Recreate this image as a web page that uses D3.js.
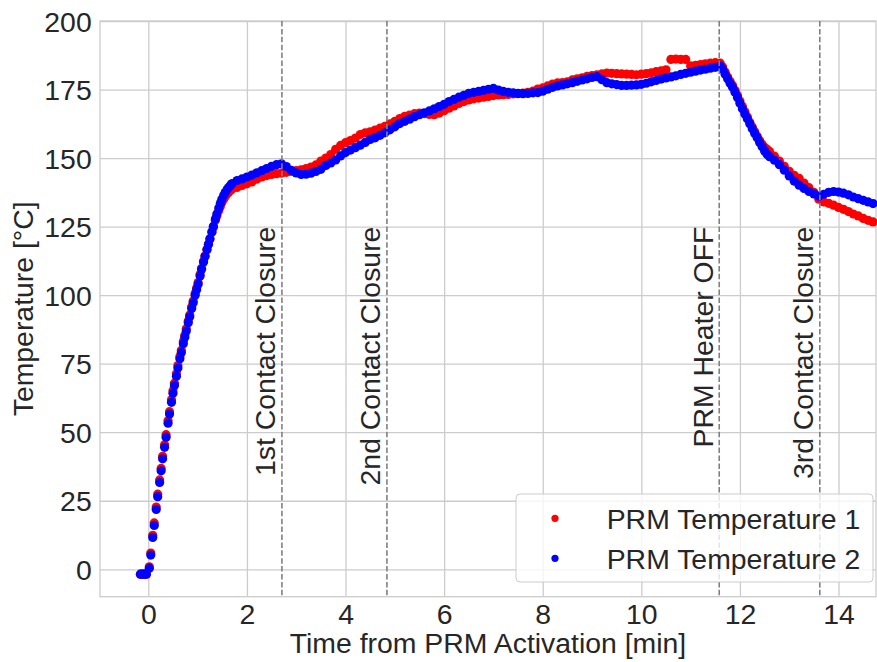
<!DOCTYPE html>
<html>
<head>
<meta charset="utf-8">
<script src="https://cdn.jsdelivr.net/npm/d3@7"></script>
<style>
  body { margin: 0; background: #fff; }
  text { font-family: "Liberation Sans", Arial, sans-serif; fill: #262626; }
</style>
</head>
<body>
<div id="plot"></div>
<script>
// time from PRM activation [min]
var minutes = [
  -0.16, -0.12, -0.08, -0.04,
  0.02, 0.05, 0.09, 0.12, 0.16, 0.19, 0.23, 0.26, 0.29, 0.33,
  0.36, 0.40, 0.43, 0.47, 0.50, 0.53, 0.57, 0.60, 0.64, 0.67,
  0.71, 0.74, 0.77, 0.81, 0.84, 0.88, 0.91, 0.95, 0.98, 1.01,
  1.05, 1.08, 1.12, 1.15, 1.19, 1.22, 1.25, 1.29, 1.32, 1.36,
  1.39, 1.43, 1.46, 1.49, 1.53, 1.56, 1.60, 1.63, 1.67, 1.70,
  1.8, 1.9, 2.0, 2.1, 2.2, 2.3, 2.4, 2.5, 2.6, 2.7,
  2.8, 2.9, 3.0, 3.1, 3.2, 3.3, 3.4, 3.5, 3.6, 3.7,
  3.8, 3.9, 4.0, 4.1, 4.2, 4.3, 4.4, 4.5, 4.6, 4.7,
  4.8, 4.9, 5.0, 5.1, 5.2, 5.3, 5.4, 5.5, 5.6, 5.7,
  5.8, 5.9, 6.0, 6.1, 6.2, 6.3, 6.4, 6.5, 6.6, 6.7,
  6.8, 6.9, 7.0, 7.1, 7.2, 7.3, 7.4, 7.5, 7.6, 7.7,
  7.8, 7.9, 8.0, 8.1, 8.2, 8.3, 8.4, 8.5, 8.6, 8.7,
  8.8, 8.9, 9.0, 9.1, 9.2, 9.3, 9.4, 9.5, 9.6, 9.7,
  9.8, 9.9, 10.0, 10.1, 10.2, 10.3, 10.4, 10.5, 10.6, 10.7,
  10.8, 10.9, 11.0, 11.1, 11.2, 11.3, 11.4, 11.5,
  11.6, 11.65, 11.7, 11.75, 11.8, 11.85, 11.9, 11.95, 12.0, 12.05,
  12.1, 12.15, 12.2, 12.25, 12.3, 12.35, 12.4, 12.45, 12.5, 12.55, 12.6,
  12.7, 12.8, 12.9, 13.0, 13.1, 13.2, 13.3, 13.4, 13.5, 13.6,
  13.7, 13.8, 13.9, 14.0, 14.1, 14.2, 14.3, 14.4, 14.5, 14.6, 14.7
];

// PRM Temperature 1 [°C]
var temp1 = [
  -1.8, -1.8, -1.8, -1.8,
  0.9, 5.9, 12.4, 16.9, 22.7, 27.4, 32.6, 36.8, 41.2, 45.4,
  49.1, 54.2, 57.5, 61.8, 65.1, 67.9, 71.3, 74.3, 77.6, 79.9,
  83.1, 85.4, 87.7, 90.6, 92.8, 95.8, 97.9, 100.6, 102.6, 104.6,
  107.5, 109.8, 112.4, 114.3, 116.7, 118.6, 120.5, 122.9, 124.8, 127.3,
  128.9, 130.9, 132.3, 133.7, 135.1, 136.0, 137.0, 137.6, 138.3, 138.8,
  139.3, 140.0, 140.6, 141.3, 142.3, 143.1, 143.6, 144.0, 144.3, 144.5,
  144.8, 145.1, 145.4, 145.7, 146.2, 146.7, 147.5, 148.9, 150.0, 151.3,
  153.2, 154.6, 155.6, 156.4, 157.3, 158.6, 159.2, 159.6, 160.2, 160.9,
  161.6, 162.5, 163.4, 164.4, 165.2, 165.7, 166.2, 166.4, 166.2, 165.9,
  165.8, 166.4, 167.3, 168.2, 169.0, 169.9, 170.6, 171.2, 171.6, 171.9,
  172.2, 172.5, 172.8, 173.0, 173.1, 173.2, 173.4, 173.5, 173.7, 174.0,
  174.4, 175.2, 175.6, 176.3, 177.0, 177.4, 177.5, 177.8, 178.5, 178.9,
  179.3, 179.8, 180.1, 180.4, 180.7, 181.0, 180.9, 180.8, 180.7, 180.6,
  180.5, 180.4, 180.6, 180.8, 181.1, 181.5, 181.8, 182.2, 186.0, 186.1,
  186.0, 186.0, 183.6, 183.8, 184.1, 184.4, 184.6, 184.8,
  184.6, 183.2, 181.4, 179.6, 178.0, 176.5, 174.7, 172.8, 170.8, 168.8,
  166.9, 165.0, 163.1, 161.3, 159.6, 158.0, 156.4, 155.0, 153.9, 153.2, 152.4,
  150.7, 148.9, 147.0, 145.2, 143.7, 142.6, 140.9, 139.2, 137.5, 135.0,
  134.0, 133.5, 132.8, 132.0, 131.3, 130.5, 129.6, 128.9, 128.0, 127.3, 126.7
];

// PRM Temperature 2 [°C]
var temp2 = [
  -1.8, -1.8, -1.8, -1.8,
  0.4, 5.2, 11.6, 16.0, 21.8, 26.5, 31.7, 35.9, 40.3, 44.5,
  48.2, 53.3, 56.6, 60.9, 64.2, 67.0, 70.4, 73.4, 76.8, 79.1,
  82.3, 84.6, 86.9, 89.9, 92.1, 95.1, 97.2, 100.0, 102.0, 104.0,
  107.0, 109.4, 112.1, 114.1, 116.6, 118.6, 120.6, 123.1, 125.1, 127.8,
  129.6, 131.8, 133.4, 134.9, 136.4, 137.4, 138.6, 139.3, 140.2, 140.7,
  141.8, 142.4, 143.1, 143.8, 144.6, 145.4, 146.2, 147.0, 147.6, 147.9,
  146.9, 145.5, 144.6, 144.0, 144.1, 144.5, 145.1, 145.9, 147.3, 148.2,
  149.3, 150.8, 152.0, 152.9, 153.8, 154.7, 155.7, 156.8, 157.4, 158.3,
  159.2, 160.3, 161.4, 162.6, 163.4, 164.2, 165.1, 165.8, 166.5, 167.2,
  168.0, 168.8, 169.6, 170.6, 171.4, 172.2, 172.9, 173.6, 174.0, 174.3,
  174.7, 175.1, 175.4, 174.8, 174.3, 174.0, 173.8, 173.6, 173.5, 173.6,
  173.8, 173.9, 174.4, 175.1, 175.8, 176.3, 176.7, 177.1, 177.5, 178.0,
  178.5, 178.9, 179.4, 179.7, 178.6, 177.5, 177.1, 176.8, 176.5, 176.5,
  176.6, 176.7, 176.9, 177.3, 177.8, 178.3, 178.8, 179.2, 179.6, 180.0,
  180.5, 180.9, 181.3, 181.7, 182.1, 182.4, 182.8, 183.1,
  183.6, 182.4, 180.6, 178.9, 177.3, 175.8, 174.0, 172.1, 170.0, 168.0,
  166.1, 164.3, 162.5, 160.7, 159.0, 157.4, 155.7, 154.1, 152.6, 151.4, 150.5,
  149.2, 147.6, 145.6, 143.5, 141.6, 140.1, 138.9, 137.8, 136.9, 136.1,
  136.8, 137.5, 137.8, 137.6, 137.2, 136.6, 135.8, 135.2, 134.6, 134.0, 133.4
];

var seriesNames = ["PRM Temperature 1", "PRM Temperature 2"];
var seriesColors = ["red", "blue"];

var eventNames = ["1st Contact Closure", "2nd Contact Closure", "PRM Heater OFF", "3rd Contact Closure"];
var eventTimes = [2.71, 4.84, 11.58, 13.62];

var xTicks = [0, 2, 4, 6, 8, 10, 12, 14];
var yTicks = [0, 25, 50, 75, 100, 125, 150, 175, 200];

var svgWidth = 877;
var svgHeight = 662;

var margin = {
  top: 21,
  right: 1,
  bottom: 65.3,
  left: 100
};

var width = svgWidth - margin.left - margin.right;
var height = svgHeight - margin.top - margin.bottom;

var svg = d3.select("#plot")
  .append("svg")
  .attr("width", svgWidth)
  .attr("height", svgHeight);

var chartGroup = svg.append("g")
  .attr("transform", `translate(${margin.left}, ${margin.top})`);

var xLinearScale = d3.scaleLinear()
  .domain([-0.98, 14.76])
  .range([0, width]);

var yLinearScale = d3.scaleLinear()
  .domain([-10, 200])
  .range([height, 0]);

var fontSize = 28.4;

// axes drawn as grid lines
var bottomAxis = d3.axisBottom(xLinearScale)
  .tickValues(xTicks)
  .tickSize(-height)
  .tickPadding(7.3)
  .tickFormat(d3.format("d"));

var leftAxis = d3.axisLeft(yLinearScale)
  .tickValues(yTicks)
  .tickSize(-width)
  .tickPadding(8.3)
  .tickFormat(d3.format("d"));

var xAxisGroup = chartGroup.append("g")
  .attr("transform", `translate(0, ${height})`)
  .call(bottomAxis);

var yAxisGroup = chartGroup.append("g")
  .call(leftAxis);

[xAxisGroup, yAxisGroup].forEach(function (g) {
  g.select(".domain").remove();
  g.selectAll(".tick line")
    .attr("stroke", "#cccccc")
    .attr("stroke-width", 1.3);
  g.selectAll(".tick text")
    .attr("fill", "#262626")
    .style("font-size", fontSize + "px")
    .style("font-family", "'Liberation Sans', Arial, sans-serif");
});
yAxisGroup.selectAll(".tick text").attr("dy", "0.36em");

// frame
chartGroup.append("rect")
  .attr("x", 0)
  .attr("y", 0)
  .attr("width", width)
  .attr("height", height)
  .attr("fill", "none")
  .attr("stroke", "#cccccc")
  .attr("stroke-width", 1.3);

// scatter points, series 1 below series 2
var series = [temp1, temp2];
series.forEach(function (values, i) {
  chartGroup.append("g")
    .selectAll("circle")
    .data(minutes)
    .enter()
    .append("circle")
    .attr("cx", d => xLinearScale(d))
    .attr("cy", (d, j) => yLinearScale(values[j]))
    .attr("r", 4.6)
    .attr("fill", seriesColors[i]);
});

// event markers
var eventGroup = chartGroup.selectAll(".event")
  .data(eventTimes)
  .enter()
  .append("g")
  .attr("class", "event");

eventGroup.append("line")
  .attr("x1", d => xLinearScale(d))
  .attr("x2", d => xLinearScale(d))
  .attr("y1", 0)
  .attr("y2", height)
  .attr("stroke", "#808080")
  .attr("stroke-width", 1.6)
  .attr("stroke-dasharray", "5.5,2.4");

eventGroup.append("text")
  .attr("transform", d => `translate(${xLinearScale(d) - 6.5}, ${yLinearScale(125)}) rotate(-90)`)
  .attr("text-anchor", "end")
  .style("font-size", fontSize + "px")
  .text((d, i) => eventNames[i]);

// axis titles
chartGroup.append("text")
  .attr("transform", `translate(${width / 2}, ${height + 56.5})`)
  .attr("text-anchor", "middle")
  .style("font-size", fontSize + "px")
  .text("Time from PRM Activation [min]");

chartGroup.append("text")
  .attr("transform", `translate(${33 - margin.left}, ${height / 2}) rotate(-90)`)
  .attr("text-anchor", "middle")
  .style("font-size", fontSize + "px")
  .text("Temperature [°C]");

// legend
var legend = svg.append("g")
  .attr("transform", "translate(516, 494)");

legend.append("rect")
  .attr("width", 357)
  .attr("height", 88)
  .attr("rx", 4)
  .attr("fill", "white")
  .attr("fill-opacity", 0.8)
  .attr("stroke", "#cccccc")
  .attr("stroke-width", 1);

var legendItems = legend.selectAll(".item")
  .data(seriesNames)
  .enter()
  .append("g")
  .attr("transform", (d, i) => `translate(0, ${24.3 + i * 40})`);

legendItems.append("circle")
  .attr("cx", 39)
  .attr("cy", 0)
  .attr("r", 3.6)
  .attr("fill", (d, i) => seriesColors[i]);

legendItems.append("text")
  .attr("x", 90.7)
  .attr("y", 0)
  .attr("dy", "0.36em")
  .style("font-size", fontSize + "px")
  .text(d => d);
</script>
</body>
</html>
